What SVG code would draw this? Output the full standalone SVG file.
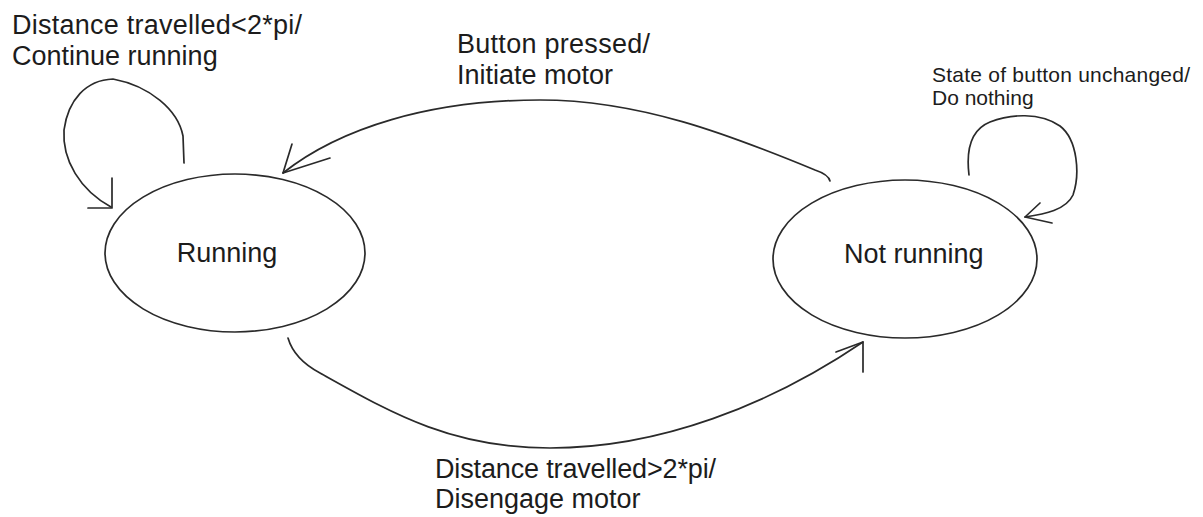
<svg xmlns="http://www.w3.org/2000/svg" width="1203" height="517" viewBox="0 0 1203 517">
  <style>
    .state { fill: none; stroke: #2a2a2a; stroke-width: 1.7; }
    .edge { fill: none; stroke: #2a2a2a; stroke-width: 1.7; stroke-linecap: round; stroke-linejoin: round; }
    text { font-family: "Liberation Sans", Arial, Helvetica, sans-serif; fill: #1c1c1c; }
    .big { font-size: 27px; }
    .small { font-size: 21px; }
  </style>
  <rect width="1203" height="517" fill="#ffffff"/>

  <!-- States -->
  <g id="running">
    <ellipse class="state" cx="235" cy="253" rx="130" ry="79"/>
    <text class="big" x="227" y="262" text-anchor="middle">Running</text>
  </g>
  <g id="not-running">
    <ellipse class="state" cx="905" cy="259" rx="132" ry="79"/>
    <text class="big" x="844" y="263">Not running</text>
  </g>

  <!-- Transitions -->
  <g id="connectors">
    <!-- Running self-loop -->
    <path class="edge" d="M184,163 L183,136 C178,110 150,86 113,79 C86,80 68,100 64,130 C62,160 80,190 111,207"/>
    <path class="edge" d="M112,178 L112,208 L88,208"/>

    <!-- Not running -> Running -->
    <path class="edge" d="M283,173 C340,128 430,100 540,100 C640,100 730,135 815,170 C824,173 829,177 830,181"/>
    <path class="edge" d="M292,144 L283,173 L330,158"/>

    <!-- Running -> Not running -->
    <path class="edge" d="M288,338 C293,355 305,365 320,373 C390,412 450,448 550,448 C660,448 770,405 863,342"/>
    <path class="edge" d="M863,372 L863,342 L836,352"/>

    <!-- Not running self-loop -->
    <path class="edge" d="M969,175 C966,150 970,130 990,122 C1010,114 1040,112 1060,126 C1078,140 1080,175 1073,195 C1066,210 1045,214 1025,217"/>
    <path class="edge" d="M1040,203 L1025,217 L1052,223"/>
  </g>

  <!-- Transition labels -->
  <g id="label-continue">
    <text class="big" x="12" y="34" textLength="290" lengthAdjust="spacing">Distance travelled&lt;2*pi/</text>
    <text class="big" x="12" y="65">Continue running</text>
  </g>
  <g id="label-initiate">
    <text class="big" x="457" y="53" textLength="193" lengthAdjust="spacing">Button pressed/</text>
    <text class="big" x="457" y="84">Initiate motor</text>
  </g>
  <g id="label-disengage">
    <text class="big" x="435" y="478" textLength="281" lengthAdjust="spacing">Distance travelled&gt;2*pi/</text>
    <text class="big" x="435" y="508">Disengage motor</text>
  </g>
  <g id="label-nothing">
    <text class="small" x="932" y="82" textLength="258" lengthAdjust="spacing">State of button unchanged/</text>
    <text class="small" x="932" y="105">Do nothing</text>
  </g>
</svg>
